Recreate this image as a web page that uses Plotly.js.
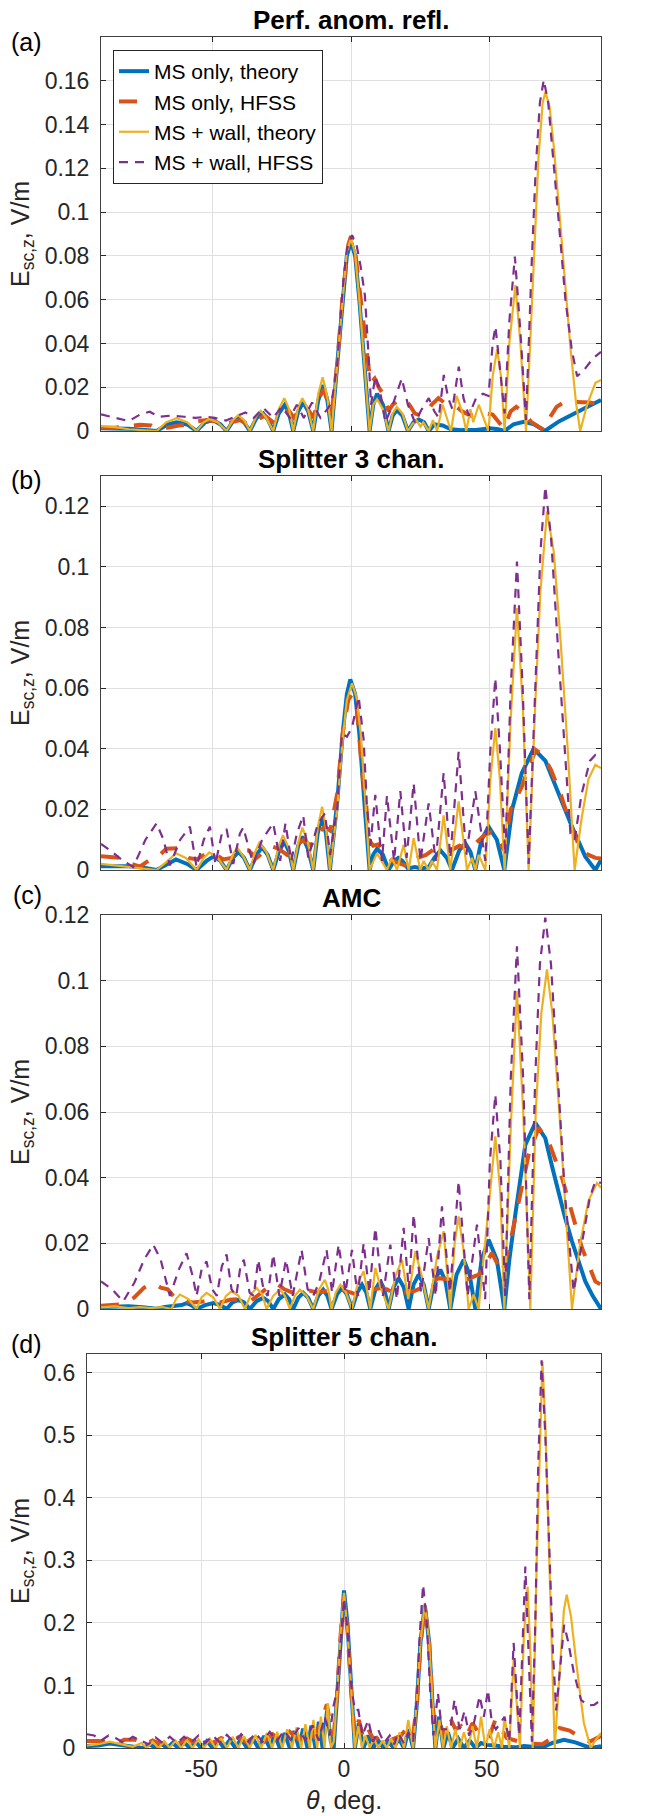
<!DOCTYPE html>
<html>
<head>
<meta charset="utf-8">
<script src="https://cdn.plot.ly/plotly-3.0.1.min.js"></script>
<style>html,body{margin:0;padding:0;background:#fff}</style>
</head>
<body>
<div id="plot" style="width:664px;height:1816px"></div>
<script>
// series labels (legend)
var seriesNames = ['MS only, theory', 'MS only, HFSS', 'MS + wall, theory', 'MS + wall, HFSS'];
var panelTitles = ['Perf. anom. refl.', 'Splitter 3 chan.', 'AMC', 'Splitter 5 chan.'];
var panelTags = ['(a)', '(b)', '(c)', '(d)'];

// axis ticks
var thetaTicks = [-50, 0, 50];
var thetaTickText = ['-50', '0', '50'];
var aYTicks = [0, 0.02, 0.04, 0.06, 0.08, 0.1, 0.12, 0.14, 0.16];
var bYTicks = [0, 0.02, 0.04, 0.06, 0.08, 0.1, 0.12];
var cYTicks = [0, 0.02, 0.04, 0.06, 0.08, 0.1, 0.12];
var dYTicks = [0, 0.1, 0.2, 0.3, 0.4, 0.5, 0.6];
var yMax = [0.18, 0.13, 0.12, 0.63];

// (a) Perf. anom. refl.
var aMsTheoryTh = [-90,-85,-80,-75,-70,-66,-62.8,-59,-55.6,-52.5,-49.6,-47,-44.8,-42.5,-40.6,-38.5,-36.4,-34,-31.6,-29.8,-28,-26,-23.8,-22.3,-20.8,-19,-17.2,-15.4,-13.6,-11.8,-10,-8.5,-7,-5,-3,-1.5,0,1.5,3,5,6.7,8,9.4,11.5,13.5,15,16.5,18.5,20.5,22.5,24.4,26.3,28,30,33,36,40,45,50,53,55.2,58.5,62.2,66,69.8,75,80,85,90];
var aMsTheoryE = [0.0012,0.0012,0.0010,0.0006,0,0.003,0.004,0.003,0,0.004,0.005,0.003,0,0.0045,0.006,0.004,0,0.006,0.008,0.005,0,0.008,0.012,0.008,0,0.009,0.013,0.009,0,0.014,0.021,0.014,0,0.03,0.06,0.08,0.0865,0.08,0.06,0.028,0,0.012,0.017,0.012,0,0.007,0.0096,0.007,0,0.004,0.0053,0.004,0,0.003,0.0025,0.0008,0.0004,0.0005,0.0012,0.0008,0,0.003,0.0042,0.003,0,0.0045,0.008,0.011,0.0142];
var aMsHfssTh = [-90,-85,-80,-76,-72,-70,-66,-62,-58,-55,-52,-49,-46,-43,-40,-37,-34,-31,-28,-25,-22.5,-20.5,-18.5,-16,-13.6,-11.5,-9.8,-8.2,-7,-5,-3,-1,0,1.5,3,4.5,5.5,7,8.5,10,12,13.5,15,17,19,21,23,25,27,29,31.5,33.5,35.5,38,40,43,46,48.5,51,53,55,57.5,59.5,61.5,63,65,67.5,69.5,71.5,74,77,80,83,86,88,90];
var aMsHfssE = [0.0015,0.0015,0.0022,0.0028,0.0025,0.0012,0.0015,0.0025,0.003,0.0045,0.005,0.0045,0.0025,0.004,0.005,0.003,0.005,0.007,0.004,0.008,0.0095,0.006,0.01,0.011,0.006,0.015,0.019,0.012,0.008,0.03,0.062,0.085,0.089,0.082,0.065,0.048,0.035,0.022,0.024,0.02,0.016,0.009,0.012,0.014,0.015,0.012,0.008,0.007,0.008,0.012,0.015,0.013,0.012,0.011,0.009,0.007,0.008,0.008,0.0075,0.004,0.0012,0.009,0.011,0.009,0.007,0.004,0.002,0.0005,0.006,0.011,0.0134,0.0134,0.0134,0.013,0.0125,0.012];
var aWallTheoryTh = [-90,-85,-80,-75,-70,-66.5,-62.8,-59,-55.6,-53,-51,-48,-44.8,-42.5,-40.6,-38.5,-36.4,-34,-32.5,-30.5,-28,-26,-24,-22.3,-20.8,-19,-17.5,-15.5,-13.6,-11.8,-10.2,-8.6,-7,-5,-3,-1.5,0,1.5,3,5,6.7,8,9.4,11.5,13.5,15,16.5,18.5,20.5,22,23.5,25,26,27,28,29.5,31,33,34.5,36,38,40,41.5,43,44,46,48,49.5,51,52.6,54,55.3,57,59.2,61,63,64.5,66,67.5,69,70,71.5,73,75,77,79,81,82.5,85,88,90];
var aWallTheoryE = [0.0022,0.0018,0.0008,0.0004,0,0.004,0.0058,0.004,0,0.004,0.0055,0.004,0,0.005,0.0072,0.005,0,0.007,0.0093,0.006,0,0.01,0.015,0.01,0,0.011,0.015,0.01,0,0.017,0.0245,0.016,0,0.03,0.062,0.082,0.088,0.081,0.06,0.026,0,0.012,0.0145,0.01,0,0.008,0.011,0.008,0,0.003,0.005,0.002,0.004,0.002,0,0.005,0,0.012,0.006,0,0.016,0.009,0,0.01,0.004,0.012,0.005,0,0.025,0.0373,0.025,0,0.04,0.0667,0.04,0,0.04,0.085,0.125,0.15,0.155,0.148,0.13,0.1,0.068,0.038,0.013,0,0.012,0.022,0.0233];
var aWallHfssTh = [-90,-85,-80,-76,-72.5,-69,-65,-60,-56,-52,-49,-45,-42,-38,-35,-31.5,-28,-25,-22,-19.5,-17,-14,-11,-8.5,-7,-5,-3,-1.5,0.4,2,3.5,5,6.3,7.2,8.75,10.5,12.4,15,18.3,20.5,23,25.5,28,30,31.6,33.4,35,36.5,38.8,40.5,42.4,45,47.5,49.5,51,52,53.5,55.3,57,59,61,63,65,66.5,68,69.4,71,72.5,74.5,77.2,79.5,81.4,84,87,90];
var aWallHfssE = [0.0076,0.006,0.0045,0.0075,0.0088,0.0065,0.007,0.0065,0.006,0.0065,0.006,0.0048,0.0065,0.0085,0.006,0.0105,0.006,0.011,0.006,0.012,0.006,0.013,0.006,0.01,0.013,0.03,0.065,0.083,0.0895,0.085,0.075,0.062,0.035,0.012,0.025,0.018,0.004,0.012,0.024,0.012,0.004,0.01,0.015,0.009,0.006,0.0256,0.015,0.01,0.0294,0.015,0.007,0.015,0.017,0.016,0.04,0.0477,0.03,0.008,0.05,0.0797,0.045,0.005,0.075,0.12,0.15,0.1604,0.15,0.13,0.1,0.06,0.037,0.025,0.028,0.033,0.0362];

// (b) Splitter 3 chan.
var bMsTheoryTh = [-90,-80,-75,-70,-66,-63,-59,-55.6,-52,-49.5,-47,-44.8,-42.5,-40.5,-38.5,-36.4,-34,-32,-30,-28,-26,-24,-22.3,-20.8,-19,-17.5,-15.5,-13.6,-12,-10.5,-9,-7.6,-5,-3,-1.5,-0.25,1.5,3,5,6.7,8,9.4,11.5,13.5,15.5,17,18.5,20.5,23,25.5,28,30,32.2,34.5,36.35,39,41.15,43,44.75,47,49.55,52.5,55.2,58,61.5,65.75,70,74.75,79.55,84.35,87.95,90];
var bMsTheoryE = [0.0012,0.0012,0.0008,0,0.002,0.0035,0.002,0,0.003,0.0045,0.003,0,0.004,0.006,0.004,0,0.005,0.0075,0.005,0,0.006,0.0095,0.006,0,0.008,0.011,0.007,0,0.012,0.0176,0.012,0,0.022,0.045,0.058,0.0629,0.058,0.045,0.02,0,0.005,0.007,0.005,0,0.003,0.004,0.003,0.0005,0.001,0.0005,0.001,0.004,0.0065,0.004,0,0.0065,0.0088,0.006,0,0.01,0.0143,0.01,0,0.02,0.032,0.04,0.036,0.025,0.0143,0.0044,0,0.0033];
var bMsHfssTh = [-90,-86,-83,-79,-76,-73,-70,-66.5,-62,-58.5,-55.5,-52,-49.5,-46,-43,-40,-37,-34,-31.5,-28.5,-26,-23,-20,-17,-14.5,-12,-9.5,-7.5,-5,-3,-1,0.3,2,4,5.2,6.4,8,10,12.5,15,18,21,24,27,30,33,36,39,42,45,48,50.5,53,55,57.5,61.5,64,66.5,69,72,75.5,79,83,88,90];
var bMsHfssE = [0.0045,0.0044,0.004,0.002,0.0011,0.003,0.004,0.007,0.0072,0.004,0.0035,0.0055,0.0055,0.0035,0.004,0.0066,0.0065,0.004,0.006,0.0078,0.007,0.005,0.008,0.0099,0.008,0.012,0.0143,0.013,0.025,0.045,0.056,0.058,0.055,0.032,0.025,0.01,0.008,0.0085,0.005,0.003,0.002,0.001,0.004,0.005,0.007,0.007,0.0065,0.008,0.007,0.009,0.0115,0.0125,0.01,0.0066,0.02,0.0275,0.034,0.0396,0.038,0.033,0.025,0.015,0.006,0.004,0.0038];
var bWallTheoryTh = [-90,-85,-80,-75,-70,-66,-63,-59.5,-55.6,-53,-51,-48,-44.8,-42.5,-41,-38.5,-36.4,-34.5,-33,-30.5,-28,-26,-24.5,-22.3,-20.8,-19,-17.5,-15.5,-13.6,-12,-10.4,-9,-7.6,-5,-3,-1.5,0.35,2,3.5,5,6.7,9.35,12.95,14.75,16.55,18.95,20.75,22.55,24.95,26.15,27.95,29.15,30.95,33.35,35.75,38.75,41.75,43.55,44.75,45.95,48.35,50.2,51.95,53.6,55.3,57.5,59.75,61.8,63.95,66.3,68.2,70.55,73,75.5,78,80.5,83,85.5,87.95,90];
var bWallTheoryE = [0.002,0.0015,0.001,0.0004,0,0.003,0.0055,0.004,0,0.004,0.0058,0.004,0,0.005,0.0075,0.004,0,0.006,0.009,0.006,0,0.008,0.0115,0.007,0,0.009,0.014,0.009,0,0.014,0.0209,0.014,0,0.02,0.043,0.056,0.0616,0.057,0.045,0.025,0,0.0055,0,0.004,0,0.0083,0,0.0105,0,0.003,0,0.003,0,0.018,0,0.0226,0,0.004,0,0.005,0,0.03,0.0468,0.03,0,0.05,0.0864,0.055,0,0.054,0.092,0.1183,0.105,0.075,0.04,0,0.017,0.03,0.0347,0.0336];
var bWallHfssTh = [-90,-86,-82,-78.4,-74,-70,-67.5,-65.2,-61.5,-58,-55.6,-53,-50.8,-48.8,-46.5,-44.8,-42.4,-40,-38.8,-35.2,-32,-28,-25.5,-23.6,-21.5,-19.5,-17.2,-15.4,-12,-9.4,-7.5,-5,-3.25,-1.45,0.35,2.75,4.55,5.75,6.95,8.75,11.15,12.95,15.5,17.75,20,22.55,25,27.95,30.5,33.35,35.75,38.75,41.5,44.75,48.35,50.2,51.95,53.6,55.55,57.5,59.75,61.8,63.95,66.3,68.2,69.95,72,74.75,77.15,79,80.5,83,86,88,90];
var bWallHfssE = [0.0086,0.006,0.003,0.001,0.01,0.0154,0.01,0.0015,0.01,0.0143,0.001,0.01,0.0143,0.002,0.012,0.0135,0.002,0.012,0.014,0.002,0.01,0.0154,0.003,0.0154,0.003,0.012,0.018,0.004,0.015,0.0187,0.005,0.02,0.045,0.044,0.047,0.0572,0.043,0.021,0.008,0.0248,0.003,0.0245,0.003,0.026,0.004,0.0286,0.003,0.022,0.003,0.032,0.004,0.039,0.005,0.026,0.003,0.04,0.0633,0.04,0.005,0.06,0.1018,0.06,0.002,0.06,0.105,0.1265,0.11,0.07,0.037,0.012,0.01,0.025,0.036,0.038,0.038];

// (c) AMC
var cMsTheoryTh = [-90,-80,-75,-70,-67,-64,-61,-59.2,-57.5,-55.6,-52.5,-49.6,-47,-44.8,-42.7,-40.6,-38.5,-36.4,-34,-31.6,-29.8,-28,-26,-23.8,-22.3,-20.8,-19,-17.2,-15.4,-13.6,-11.8,-10,-8.5,-7,-5,-3.25,-1.5,0.35,2.2,3.95,5.5,6.95,8.8,10.55,12,13.55,15.3,17.15,19,20.75,22.5,24.35,26.2,27.95,30,32.15,34,35.75,38,40.55,42.7,44.75,47,49.55,52.5,55.2,57,59.15,61,62.75,66.35,69.95,72.5,74.75,77,79.55,82,84.35,87,90];
var cMsTheoryE = [0.0006,0.0008,0.0005,0.0001,0.0006,0.0008,0.0012,0.0018,0.0012,0,0.0012,0.0018,0.0012,0,0.002,0.0028,0.002,0,0.0024,0.0034,0.0024,0,0.003,0.0044,0.003,0,0.0034,0.0049,0.0034,0,0.004,0.0059,0.004,0,0.0045,0.0064,0.0045,0,0.005,0.0074,0.005,0,0.006,0.0084,0.006,0,0.0066,0.0094,0.0066,0,0.0074,0.0105,0.0074,0,0.0085,0.012,0.0085,0,0.0105,0.015,0.0105,0,0.015,0.0211,0.015,0,0.015,0.0288,0.04,0.05,0.0567,0.052,0.043,0.0349,0.028,0.0206,0.014,0.0084,0.004,0];
var cMsHfssTh = [-90,-86,-82,-78,-74.5,-71.2,-68.5,-66,-63,-60,-57,-53,-50,-47,-43.5,-40,-36,-33,-30,-27,-24,-21,-18,-15,-12,-9,-6,-3.25,-0.5,2.15,6,10.55,13,15.95,19,22.55,27,31.55,35.5,39.95,43,45.95,50.75,54.35,56.75,60.35,63.95,67.55,71.15,75.95,79.55,83.15,87.95,90];
var cMsHfssE = [0.001,0.0012,0.0015,0.0035,0.0065,0.0079,0.0065,0.006,0.003,0.0025,0.002,0.0023,0.0025,0.002,0.0028,0.003,0.0025,0.0045,0.0065,0.0079,0.006,0.005,0.0054,0.0056,0.005,0.0054,0.0059,0.0059,0.0052,0.0044,0.0055,0.0064,0.006,0.0044,0.005,0.0054,0.007,0.0094,0.009,0.0084,0.0095,0.0105,0.017,0.011,0.018,0.0328,0.047,0.0552,0.051,0.040,0.0288,0.0186,0.0084,0.0074];
var cWallTheoryTh = [-90,-85,-80,-76,-72,-68,-64.6,-63,-61.6,-58.5,-55.6,-53.8,-52,-49.5,-47.2,-45,-43,-40.5,-38.2,-36,-34,-32,-30.4,-28,-25.6,-23.8,-22,-20.2,-18.4,-16,-13.6,-11.5,-9.4,-8.2,-7,-5.5,-3.85,-1.8,0.35,2.5,4.55,5.8,6.95,8.75,10.5,13.55,16,18.35,20.6,23.15,25.5,27.95,31,33.35,35.75,37.3,38.75,40.5,42.35,44.15,45.95,50,51.95,53.8,55.2,57.5,59.75,62,64.55,66.5,68.5,70.55,72.5,75,77.5,79.55,82.5,85.5,88.55,90];
var cWallTheoryE = [0.0005,0.0008,0.0003,0.0006,0.0003,0.0006,0,0.003,0.0044,0.003,0,0.0035,0.0049,0.0035,0,0.004,0.0054,0.004,0,0.0045,0.0064,0.0045,0,0.004,0.0059,0.004,0,0.004,0.0059,0.004,0,0.006,0.0089,0.006,0,0.005,0.0074,0.005,0,0.008,0.0115,0.006,0,0.0125,0.007,0,0.01,0.015,0.003,0.0176,0.01,0,0.016,0.0237,0,0.02,0.0282,0.018,0,0.0044,0,0.035,0.0526,0.035,0,0.055,0.0968,0.06,0,0.06,0.09,0.1034,0.09,0.06,0.028,0,0.02,0.033,0.0384,0.0369];
var cWallHfssTh = [-90,-86,-82,-78,-74.5,-71.2,-68.5,-65.2,-62,-59.2,-57,-55.6,-53.8,-52,-50,-48.3,-46.5,-44.8,-43,-41.3,-39.8,-38.6,-36.5,-35,-33.4,-31.5,-30,-28,-25.8,-23.4,-21,-19.2,-17.8,-15.6,-13.6,-11.5,-8.8,-6.8,-4.45,-2,0.35,2.4,4.55,6.6,8.75,11.5,14.15,16.5,18.95,20.8,22.55,25.2,27.95,30.5,32.75,35.6,38.75,42,45.35,48.3,50,51.95,53.8,55.5,57.5,59.75,62,64.2,66.3,68,69.95,72,74.5,77,80.15,83,86,87.95,90];
var cWallHfssE = [0.0084,0.006,0.0023,0.008,0.015,0.0196,0.015,0.004,0.012,0.017,0.01,0.004,0.012,0.0145,0.006,0.004,0.013,0.0166,0.006,0.004,0.013,0.015,0.005,0.004,0.015,0.006,0.004,0.0166,0.004,0.015,0.004,0.012,0.018,0.006,0.004,0.008,0.018,0.005,0.0196,0.005,0.018,0.004,0.020,0.005,0.0247,0.004,0.0196,0.003,0.0247,0.006,0.0288,0.005,0.0216,0.004,0.0313,0.005,0.0389,0.004,0.0257,0.003,0.045,0.0653,0.045,0.004,0.07,0.1105,0.07,0.003,0.07,0.105,0.1192,0.105,0.07,0.035,0.0054,0.02,0.034,0.0389,0.0384];

// (d) Splitter 5 chan.
var dMsTheoryTh = [-90,-86,-82,-78,-74,-70.5,-68,-66,-64,-62,-60,-58,-56,-54,-52,-50,-48,-46,-44,-42,-40,-38,-36,-34,-32,-30,-28,-26,-24.3,-22.5,-20.8,-19,-17.4,-15.8,-14.3,-12.8,-11.4,-10,-8.8,-7.5,-5.9,-4.6,-3.6,-2.5,-1.2,0,1.2,2.5,3.8,5.2,6.8,8.5,10.2,12,13.8,15.6,17.4,19.2,21,22.6,24.2,25.5,26.8,28.3,29.8,31,32,33.3,34.8,36.4,38,40,42,44,46,48,50,53,56,60,63,66,69,73,77,81,86.4,90];
var dMsTheoryE = [0.003,0.004,0.007,0.005,0.003,0,0.006,0,0.007,0,0.008,0,0.009,0,0.01,0,0.011,0,0.012,0,0.013,0,0.015,0,0.016,0,0.019,0,0.021,0,0.024,0,0.027,0,0.031,0,0.036,0,0.042,0,0.06,0.01,0,0.08,0.19,0.252,0.2,0.09,0,0.04,0,0.02,0,0.012,0,0.01,0,0.015,0,0.03,0,0.07,0.17,0.228,0.17,0.07,0,0.05,0,0.025,0,0.015,0,0.012,0,0.008,0.005,0.004,0.002,0.001,0.003,0.002,0,0.008,0.013,0.009,0,0.003];
var dMsHfssTh = [-90,-86,-83,-80,-77,-73,-70,-67,-64,-61,-58,-55,-52,-49,-46,-43,-40,-37,-34,-31,-28,-25,-22,-19,-16,-13,-10.5,-8,-6,-4.5,-3.6,-2.5,-1.2,0,1.2,2.5,3.8,5.2,6.8,8.5,10.5,12.5,15,17.5,20,22.5,24.2,25.5,26.8,28.3,29.8,31,32,33.5,35,37,39,41,43,45,47,49,51,53,55,57,60,63,66,69.5,72.5,75.5,79,82.5,86,89,90];
var dMsHfssE = [0.011,0.011,0.009,0.006,0.013,0.013,0.005,0.012,0.006,0.014,0.007,0.015,0.008,0.016,0.008,0.016,0.009,0.017,0.009,0.02,0.01,0.022,0.012,0.026,0.014,0.03,0.018,0.04,0.07,0.03,0.02,0.08,0.18,0.242,0.19,0.09,0.02,0.045,0.015,0.03,0.012,0.02,0.01,0.015,0.02,0.035,0.02,0.07,0.165,0.226,0.17,0.07,0.03,0.04,0.02,0.05,0.03,0.035,0.02,0.04,0.025,0.03,0.02,0.045,0.03,0.016,0.012,0.008,0.007,0.006,0.015,0.032,0.028,0.018,0.01,0.017,0.019];
var dWallTheoryTh = [-90,-86,-82,-78,-74,-71,-69,-67,-65,-63,-61,-59,-57,-55,-53,-51,-49,-47,-45,-43,-41,-39,-37,-35,-33,-31,-29,-27,-25.2,-23.4,-21.6,-19.9,-18.2,-16.6,-15,-13.5,-12,-10.7,-9.4,-8.1,-6.8,-5.7,-4.6,-3.6,-2.5,-1.2,0,1.2,2.5,3.8,5,6.3,7.5,9,10.5,12,13.5,15,16.5,18,19.5,21,22.5,24.2,25.5,26.8,28.3,29.8,31,32,33.4,34.7,36,37.5,39,40.5,42,43.5,45,46.5,48,49.5,51,52.5,54,55.3,56.2,57.9,59.4,60.5,61.6,63,64.3,65.3,66.1,67.5,68.5,69.5,70.5,71.5,72.7,73.8,75.5,77,78,79.5,81.5,84,86.4,88,90];
var dWallTheoryE = [0.004,0.006,0.01,0.006,0.002,0.008,0,0.01,0,0.011,0,0.012,0,0.013,0,0.014,0,0.015,0,0.016,0,0.018,0,0.019,0,0.021,0,0.024,0,0.026,0,0.03,0,0.033,0,0.038,0,0.045,0,0.05,0,0.072,0,0.01,0.08,0.185,0.248,0.19,0.09,0,0.035,0,0.02,0,0.015,0,0.012,0,0.015,0,0.025,0,0.045,0,0.075,0.17,0.232,0.17,0.075,0,0.045,0,0.035,0,0.03,0,0.025,0,0.035,0,0.05,0,0.03,0,0.025,0,0.05,0,0.141,0.07,0,0.18,0.258,0.15,0,0.3,0.48,0.618,0.52,0.36,0.15,0,0.12,0.22,0.245,0.21,0.13,0.04,0,0.012,0.024];
var dWallHfssTh = [-90,-87.5,-85,-82.5,-80,-77,-74,-71,-68.5,-66,-63.5,-61,-58.5,-56,-53.5,-51,-48.5,-46,-43.5,-41,-38.5,-36,-33.5,-31,-28.5,-26,-23.5,-21,-18.5,-16,-13.5,-11,-8.8,-6.8,-5,-3.7,-2.5,-1.2,0,1.2,2.5,3.8,5,6.5,8.5,10.2,12,14,16,17.5,19,21,22.5,24.2,25.5,26.5,27.7,29,30.2,31.3,32.9,34.2,35.8,37.2,38.7,40.5,42.2,43.8,45.5,47.5,49,50.4,51.8,53.2,54.8,56.2,57.9,59.4,61.4,63.5,65.8,67,68,69.2,70.5,71.9,73.2,74.3,75.5,77.1,78.5,80.5,83,85.5,87.6,89.4,90];
var dWallHfssE = [0.022,0.02,0.012,0.02,0.016,0.008,0.018,0.012,0.006,0.017,0.008,0.018,0.008,0.018,0.009,0.02,0.008,0.02,0.009,0.021,0.009,0.022,0.01,0.024,0.01,0.026,0.011,0.028,0.012,0.032,0.012,0.036,0.012,0.05,0.02,0.067,0.09,0.17,0.24,0.19,0.1,0.06,0.061,0.02,0.045,0.01,0.029,0.008,0.02,0.006,0.024,0.007,0.025,0.01,0.08,0.18,0.261,0.2,0.09,0.02,0.088,0.03,0.03,0.03,0.077,0.03,0.059,0.02,0.04,0.083,0.05,0.093,0.04,0.03,0.04,0.05,0.01,0.168,0.02,0.29,0.01,0.2,0.45,0.62,0.5,0.33,0.15,0.06,0.12,0.197,0.17,0.12,0.077,0.068,0.069,0.075,0.075];

var panels = [
  {th: [aMsTheoryTh, aMsHfssTh, aWallTheoryTh, aWallHfssTh], e: [aMsTheoryE, aMsHfssE, aWallTheoryE, aWallHfssE], ticks: aYTicks},
  {th: [bMsTheoryTh, bMsHfssTh, bWallTheoryTh, bWallHfssTh], e: [bMsTheoryE, bMsHfssE, bWallTheoryE, bWallHfssE], ticks: bYTicks},
  {th: [cMsTheoryTh, cMsHfssTh, cWallTheoryTh, cWallHfssTh], e: [cMsTheoryE, cMsHfssE, cWallTheoryE, cWallHfssE], ticks: cYTicks},
  {th: [dMsTheoryTh, dMsHfssTh, dWallTheoryTh, dWallHfssTh], e: [dMsTheoryE, dMsHfssE, dWallTheoryE, dWallHfssE], ticks: dYTicks}
];

// styling
var W = 664, H = 1816;
var FONT = 'Liberation Sans, Arial, Helvetica, sans-serif';
var INK = '#262626';
var lineStyles = [
  {color: '#0072BD', width: 4, dash: 'solid'},
  {color: '#D95319', width: 4, dash: '18px,15px'},
  {color: '#EDB120', width: 2.2, dash: 'solid'},
  {color: '#7E2F8E', width: 2.2, dash: '9px,7px'}
];
// pixel boxes of the four axes
var boxes = [
  {l: 101, r: 601, t: 37, b: 431},
  {l: 101, r: 601, t: 476, b: 870},
  {l: 101, r: 601, t: 915, b: 1309},
  {l: 87, r: 601, t: 1354, b: 1748}
];
var tagPos = [[26, 42], [26, 480], [27, 895], [26, 1344]];

function fx(px) { return px / W; }
function fy(py) { return 1 - py / H; }

var traces = [];
var layout = {
  width: W, height: H,
  margin: {l: 0, r: 0, t: 0, b: 0},
  paper_bgcolor: '#fff', plot_bgcolor: '#fff',
  font: {family: FONT, color: INK},
  showlegend: true,
  legend: {
    x: fx(113), y: fy(50), xanchor: 'left', yanchor: 'top',
    bgcolor: '#fff', bordercolor: INK, borderwidth: 1,
    font: {family: FONT, size: 21, color: '#000'},
    tracegroupgap: 0
  },
  annotations: []
};

panels.forEach(function (p, i) {
  var n = i === 0 ? '' : String(i + 1);
  var bx = boxes[i];
  for (var s = 0; s < 4; s++) {
    traces.push({
      type: 'scatter', mode: 'lines',
      x: p.th[s], y: p.e[s],
      xaxis: 'x' + n, yaxis: 'y' + n,
      name: seriesNames[s], legendgroup: 's' + s,
      showlegend: i === 0,
      line: lineStyles[s],
      hoverinfo: 'skip'
    });
  }
  layout['xaxis' + n] = {
    domain: [fx(bx.l), fx(bx.r)], anchor: 'y' + n,
    range: [-90, 90], tickvals: thetaTicks, ticktext: thetaTickText,
    showticklabels: i === 3,
    ticks: 'inside', ticklen: 5, tickwidth: 1, tickcolor: INK,
    showline: true, mirror: 'ticks', linecolor: '#404040', linewidth: 1,
    showgrid: true, gridcolor: '#e0e0e0', gridwidth: 1, zeroline: false,
    tickfont: {family: FONT, size: 23, color: INK}
  };
  layout['yaxis' + n] = {
    domain: [fy(bx.b), fy(bx.t)], anchor: 'x' + n,
    range: [0, yMax[i]], tickvals: p.ticks,
    ticks: 'inside', ticklen: 5, tickwidth: 1, tickcolor: INK,
    showline: true, mirror: 'ticks', linecolor: '#404040', linewidth: 1,
    showgrid: true, gridcolor: '#e0e0e0', gridwidth: 1, zeroline: false,
    ticklabelstandoff: 6,
    tickfont: {family: FONT, size: 23, color: INK}
  };
  var midX = (bx.l + bx.r) / 2, midY = (bx.t + bx.b) / 2;
  layout.annotations.push({
    xref: 'paper', yref: 'paper', x: fx(midX), y: fy(bx.t - 17),
    xanchor: 'center', yanchor: 'middle', showarrow: false,
    text: '<b>' + panelTitles[i] + '</b>', font: {family: FONT, size: 26, color: '#000'}
  });
  layout.annotations.push({
    xref: 'paper', yref: 'paper', x: fx(tagPos[i][0]), y: fy(tagPos[i][1]),
    xanchor: 'center', yanchor: 'middle', showarrow: false,
    text: panelTags[i], font: {family: FONT, size: 25, color: '#000'}
  });
  layout.annotations.push({
    xref: 'paper', yref: 'paper', x: fx(22), y: fy(midY),
    xanchor: 'center', yanchor: 'middle', showarrow: false, textangle: -90,
    text: 'E<sub>sc,z</sub>, V/m', font: {family: FONT, size: 25, color: INK}
  });
});

layout.annotations.push({
  xref: 'paper', yref: 'paper', x: fx(344), y: fy(1800),
  xanchor: 'center', yanchor: 'middle', showarrow: false,
  text: '<i>θ</i>, deg.', font: {family: FONT, size: 25, color: INK}
});

Plotly.newPlot('plot', traces, layout, {staticPlot: true});
</script>
</body>
</html>
